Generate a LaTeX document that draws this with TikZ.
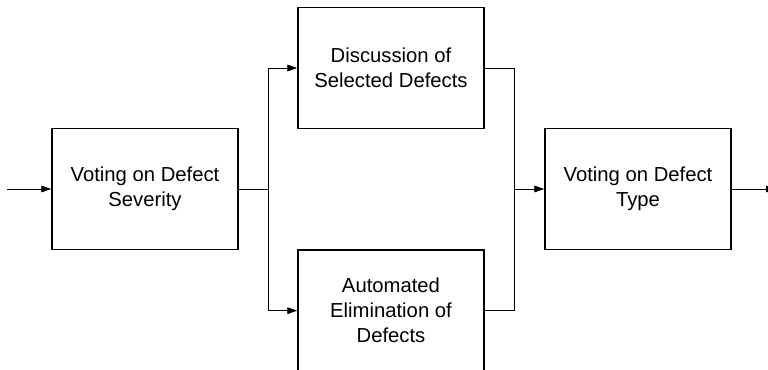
\documentclass[tikz,border=0pt]{standalone}
\usepackage{fontspec}
\setmainfont{Liberation Sans}
\usetikzlibrary{arrows.meta,positioning,calc}
\tikzset{
  stage/.style={draw=black,line width=1.1pt,fill=white,align=center,
    font=\fontsize{15.2}{18.75}\selectfont,inner sep=0pt,
    minimum width=139.5pt,minimum height=90.75pt},
  wire/.style={draw=black,line width=0.7pt},
  arr/.style={wire,-{Triangle[length=7.5pt,width=5pt]}},
}
\begin{document}
\begin{tikzpicture}
  \useasboundingbox (0,0) rectangle (576pt,-277.5pt);
  \node[stage] (sev) at (108.75pt,-141.75pt) {Voting on Defect\\Severity};
  \node[stage] (disc) at (293.25pt,-51pt) {Discussion of\\Selected Defects};
  \node[stage] (auto) at (293.25pt,-233pt) {Automated\\Elimination of\\Defects};
  \node[stage] (type) at (478.5pt,-141.75pt) {Voting on Defect\\Type};
  \coordinate (in) at (5.25pt,-141.75pt);
  \coordinate (out) at (582pt,-141.75pt);
  \coordinate (split) at ($(sev.east)!0.5!(disc.west)$);
  \coordinate (join) at ($(disc.east)!0.5!(type.west)$);
  \coordinate (fork) at (split |- sev.east);
  \coordinate (merge) at (join |- type.west);
  \draw[arr] (in) -- (sev.west);
  \draw[wire] (sev.east) -- (fork);
  \draw[arr] (fork) |- (disc.west);
  \draw[arr] (fork) |- (auto.west);
  \draw[wire] (disc.east) -| (merge);
  \draw[wire] (auto.east) -| (merge);
  \draw[arr] (merge) -- (type.west);
  \draw[arr] (type.east) -- (out);
\end{tikzpicture}
\end{document}
